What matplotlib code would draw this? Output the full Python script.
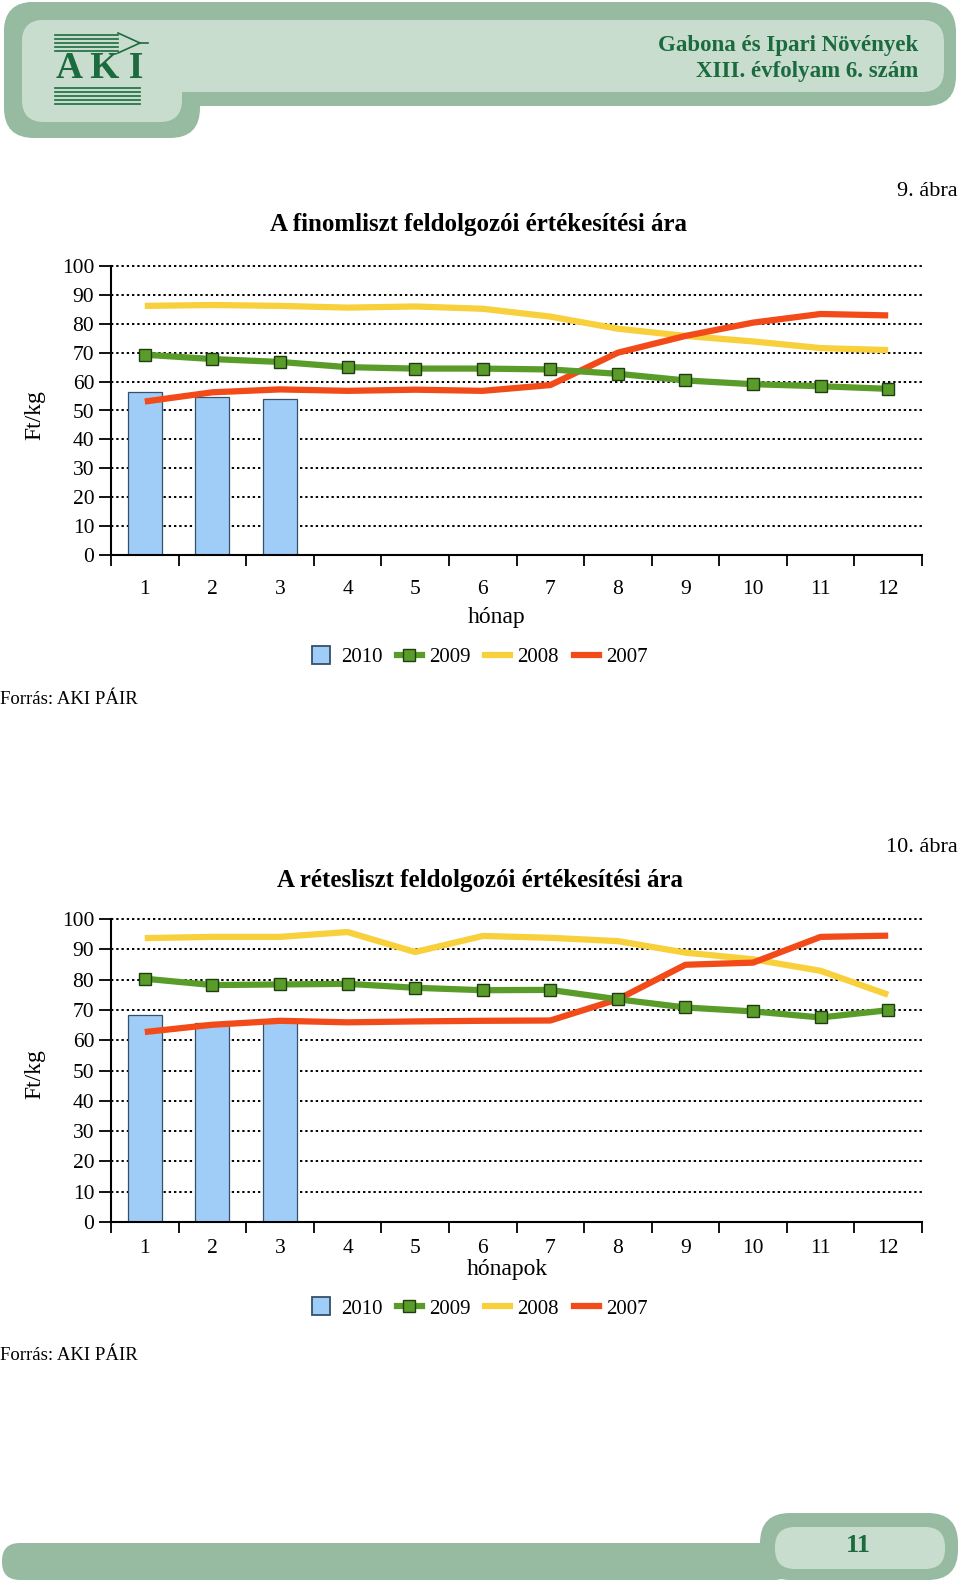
import matplotlib
matplotlib.use("Agg")
import matplotlib.pyplot as plt
from matplotlib.patches import FancyBboxPatch
from matplotlib.lines import Line2D

plt.rcParams['font.family'] = ['Liberation Serif', 'DejaVu Serif']

W, H = 960, 1582

months = [1, 2, 3, 4, 5, 6, 7, 8, 9, 10, 11, 12]
years = ['2010', '2009', '2008', '2007']

# 9. abra - finomliszt
fin_2010 = [56.3, 54.7, 54.1]
fin_2009 = [69.3, 67.8, 66.8, 65.0, 64.5, 64.5, 64.2, 62.7, 60.4, 59.1, 58.4, 57.5]
fin_2008 = [86.2, 86.5, 86.2, 85.6, 86.0, 85.2, 82.5, 78.3, 75.8, 73.9, 71.6, 70.9]
fin_2007 = [53.1, 56.3, 57.3, 56.8, 57.2, 56.8, 58.8, 70.0, 75.8, 80.4, 83.4, 82.9]

# 10. abra - retesliszt
ret_2010 = [68.2, 65.6, 66.1]
ret_2009 = [80.3, 78.2, 78.4, 78.6, 77.3, 76.5, 76.6, 73.5, 70.8, 69.5, 67.5, 69.9]
ret_2008 = [93.7, 94.1, 94.1, 95.7, 89.1, 94.4, 93.8, 92.7, 88.9, 86.7, 82.9, 75.0]
ret_2007 = [62.7, 65.1, 66.4, 65.9, 66.2, 66.4, 66.5, 73.5, 84.9, 85.6, 94.1, 94.5]

yticks = [0, 10, 20, 30, 40, 50, 60, 70, 80, 90, 100]

c_bar = '#9fcdf8'
c_bar_edge = '#34506b'
c_green = '#5a9c2a'
c_green_edge = '#1f3d10'
c_yellow = '#f8d03c'
c_red = '#f24a18'
dark_green = '#1b6b3f'


def fy(y):
    return 1 - y / H


def fx(x):
    return x / W


fig = plt.figure(figsize=(9.6, 15.82), dpi=100)

# background decoration (header / footer)
bg = fig.add_axes([0, 0, 1, 1], zorder=-1)
bg.set_xlim(0, W)
bg.set_ylim(H, 0)
bg.axis('off')
outer = '#97bba0'
inner = '#c9ddcf'
bg.add_patch(FancyBboxPatch((4, 2), 952, 104, boxstyle='round,pad=0,rounding_size=30', fc=outer, ec='none'))
bg.add_patch(FancyBboxPatch((4, 2), 196, 136, boxstyle='round,pad=0,rounding_size=30', fc=outer, ec='none'))
bg.add_patch(FancyBboxPatch((22, 20), 922, 72, boxstyle='round,pad=0,rounding_size=22', fc=inner, ec='none'))
bg.add_patch(FancyBboxPatch((22, 20), 160, 102, boxstyle='round,pad=0,rounding_size=22', fc=inner, ec='none'))
bg.add_patch(FancyBboxPatch((2, 1543), 790, 37, boxstyle='round,pad=0,rounding_size=18', fc=outer, ec='none'))
bg.add_patch(FancyBboxPatch((760, 1513), 198, 67, boxstyle='round,pad=0,rounding_size=30', fc=outer, ec='none'))
bg.add_patch(FancyBboxPatch((775, 1527), 170, 42, boxstyle='round,pad=0,rounding_size=20', fc=inner, ec='none'))

# logo
for yy in [35, 39, 43, 47, 51]:
    bg.plot([55, 118], [yy, yy], color=dark_green, lw=1.2)
bg.plot([118, 140, 148], [33, 43, 43], color=dark_green, lw=1.2)
bg.plot([118, 140], [53, 43], color=dark_green, lw=1.2)
for yy in [88, 92, 96, 100, 104]:
    bg.plot([55, 140], [yy, yy], color=dark_green, lw=1.2)
bg.text(100, 69, 'A K I', ha='center', va='center', fontsize=27, fontweight='bold', color=dark_green)
bg.text(918, 45, 'Gabona és Ipari Növények', ha='right', va='center', fontsize=16.5, fontweight='bold', color=dark_green)
bg.text(918, 71, 'XIII. évfolyam 6. szám', ha='right', va='center', fontsize=16.5, fontweight='bold', color=dark_green)
bg.text(858, 1546, '11', ha='center', va='center', fontsize=19, fontweight='bold', color=dark_green)


def draw_chart(top, bottom, v2010, v2009, v2008, v2007):
    ax = fig.add_axes([fx(111), fy(bottom), fx(922 - 111), (bottom - top) / H])
    ax.bar(months[:len(v2010)], v2010, width=0.5, color=c_bar, edgecolor=c_bar_edge, linewidth=0.9, zorder=2)
    ax.plot(months, v2008, color=c_yellow, lw=4.5, zorder=3, solid_capstyle='butt')
    ax.plot(months, v2007, color=c_red, lw=4.5, zorder=4, solid_capstyle='butt')
    ax.plot(months, v2009, color=c_green, lw=4.5, marker='s', markersize=8,
            markerfacecolor=c_green, markeredgecolor=c_green_edge, markeredgewidth=1, zorder=5)
    ax.set_xlim(0.5, 12.5)
    ax.set_ylim(0, 100)
    ax.set_yticks(yticks)
    ax.set_xticks(months)
    ax.set_xticks([m + 0.5 for m in [0] + months], minor=True)
    ax.tick_params(axis='x', which='major', length=0, labelsize=15.5)
    ax.tick_params(axis='x', which='minor', length=8, width=1.3, direction='out')
    ax.tick_params(axis='y', length=9, width=1.3, labelsize=15.5, pad=3)
    for g in yticks[1:]:
        ax.axhline(g, color='black', lw=1.4, linestyle=(0, (1.2, 1.5)), zorder=1, clip_on=False)
    for s in ['top', 'right']:
        ax.spines[s].set_visible(False)
    ax.spines['left'].set_linewidth(1.5)
    ax.spines['bottom'].set_linewidth(1.5)
    ax.patch.set_alpha(0)
    return ax


ax1 = draw_chart(266, 555, fin_2010, fin_2009, fin_2008, fin_2007)
ax1.tick_params(axis='x', which='major', pad=18)
ax2 = draw_chart(919, 1222, ret_2010, ret_2009, ret_2008, ret_2007)
ax2.tick_params(axis='x', which='major', pad=12)

handles = [
    Line2D([], [], linestyle='none', marker='s', markersize=13, markerfacecolor=c_bar,
           markeredgecolor=c_bar_edge, markeredgewidth=1.3),
    Line2D([], [], color=c_green, lw=4.5, marker='s', markersize=9, markerfacecolor=c_green, markeredgecolor=c_green_edge),
    Line2D([], [], color=c_yellow, lw=4.5),
    Line2D([], [], color=c_red, lw=4.5),
]

for leg_y in [657, 1309]:
    fig.legend(handles, years, loc='center', bbox_to_anchor=(fx(478), fy(leg_y)), ncol=4, frameon=False,
               fontsize=15, handlelength=1.2, handletextpad=0.35, columnspacing=0.7)

fig.text(fx(958), fy(192), '9. ábra', ha='right', va='center', fontsize=16)
fig.text(fx(479), fy(225), 'A finomliszt feldolgozói értékesítési ára', ha='center', va='center', fontsize=18, fontweight='bold')
fig.text(fx(35), fy(415), 'Ft/kg', ha='center', va='center', rotation=90, fontsize=17)
fig.text(fx(497), fy(617), 'hónap', ha='center', va='center', fontsize=17)
fig.text(fx(0), fy(700), 'Forrás: AKI PÁIR', ha='left', va='center', fontsize=13.5)

fig.text(fx(958), fy(847), '10. ábra', ha='right', va='center', fontsize=16)
fig.text(fx(480), fy(880), 'A rétesliszt feldolgozói értékesítési ára', ha='center', va='center', fontsize=18, fontweight='bold')
fig.text(fx(35), fy(1074), 'Ft/kg', ha='center', va='center', rotation=90, fontsize=17)
fig.text(fx(507), fy(1270), 'hónapok', ha='center', va='center', fontsize=17)
fig.text(fx(0), fy(1356), 'Forrás: AKI PÁIR', ha='left', va='center', fontsize=13.5)

fig.savefig('out.png', dpi=100)
